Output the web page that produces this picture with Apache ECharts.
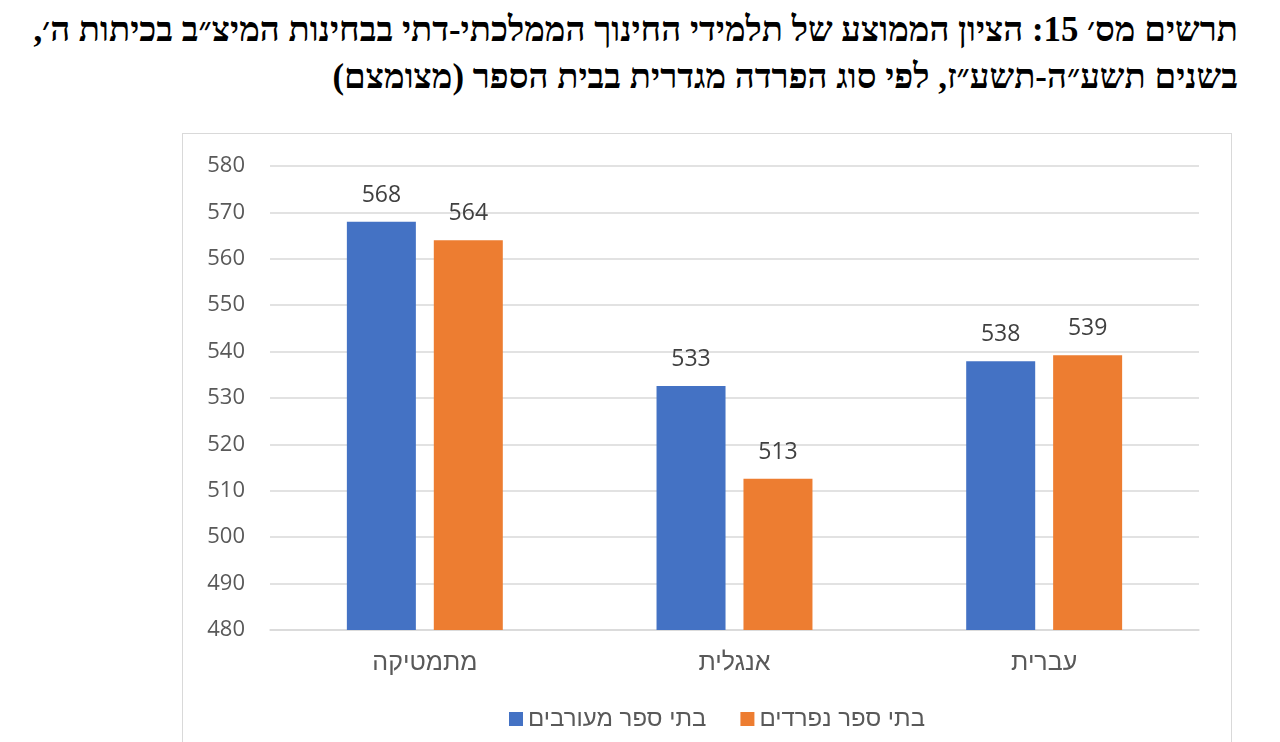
<!DOCTYPE html>
<html>
<head>
<meta charset="utf-8">
<script src="https://cdn.jsdelivr.net/npm/echarts@6/dist/echarts.min.js"></script>
<style>
  body { margin: 0; background: #fff; width: 1280px; height: 742px; overflow: hidden; position: relative; }
  .title {
    position: absolute; right: 42px; top: 6px; width: 1236px;
    direction: rtl; text-align: right; white-space: nowrap;
    font-family: "Liberation Serif", "DejaVu Serif", serif; font-weight: bold;
    font-size: 34.8px; line-height: 47px; color: #000;
  }
  #main { position: absolute; left: 182px; top: 133px; width: 1048px; height: 640px; border: 1px solid #d9d9d9; }
</style>
</head>
<body>
<div class="title">
  <div>תרשים מס׳ 15: הציון הממוצע של תלמידי החינוך הממלכתי-דתי בבחינות המיצ״ב בכיתות ה׳,</div>
  <div>בשנים תשע״ה-תשע״ז, לפי סוג הפרדה מגדרית בבית הספר (מצומצם)</div>
</div>
<div id="main"></div>
<script>
var categories = ['מתמטיקה', 'אנגלית', 'עברית']
var seriesNames = ['בתי ספר מעורבים', 'בתי ספר נפרדים']
var mixedValues = [568.0, 532.6, 537.9]
var separateValues = [564.0, 512.6, 539.2]
var yTicks = [480, 490, 500, 510, 520, 530, 540, 550, 560, 570, 580]

var font = '"Open Sans", "Liberation Sans", sans-serif'
var hebFont = '"Liberation Sans", sans-serif'

function barSeries (name, values, color) {
  return {
    name: name,
    type: 'bar',
    data: values,
    barWidth: 69,
    barGap: '26%',
    itemStyle: { color: color },
    label: {
      show: true,
      position: 'top',
      distance: 15,
      color: '#404040',
      fontSize: 23,
      fontFamily: font,
      formatter: function (p) { return Math.round(p.value) }
    }
  }
}

var myChart = echarts.init(document.getElementById('main'))

myChart.setOption({
  animation: false,
  color: ['#4472C4', '#ED7D31'],
  grid: { left: 87, right: 32, top: 32, bottom: 144 },
  legend: {
    data: seriesNames,
    bottom: 38,
    left: 321,
    itemWidth: 14,
    itemHeight: 14,
    itemGap: 34,
    icon: 'rect',
    textStyle: { color: '#595959', fontSize: 24, fontFamily: hebFont }
  },
  xAxis: {
    type: 'category',
    data: categories,
    axisLine: { lineStyle: { color: '#d9d9d9', width: 1.5 } },
    axisTick: { show: false },
    axisLabel: { color: '#595959', fontSize: 25, fontFamily: hebFont, margin: 21 }
  },
  yAxis: {
    type: 'value',
    min: yTicks[0],
    max: yTicks[yTicks.length - 1],
    interval: 10,
    axisLine: { show: false },
    axisTick: { show: false },
    axisLabel: { color: '#595959', fontSize: 22, fontFamily: font, margin: 25 },
    splitLine: { lineStyle: { color: '#d9d9d9', width: 1.5 } }
  },
  series: [
    barSeries(seriesNames[0], mixedValues, '#4472C4'),
    barSeries(seriesNames[1], separateValues, '#ED7D31')
  ]
})

window.onresize = function () {
  myChart.resize()
}
</script>
</body>
</html>
